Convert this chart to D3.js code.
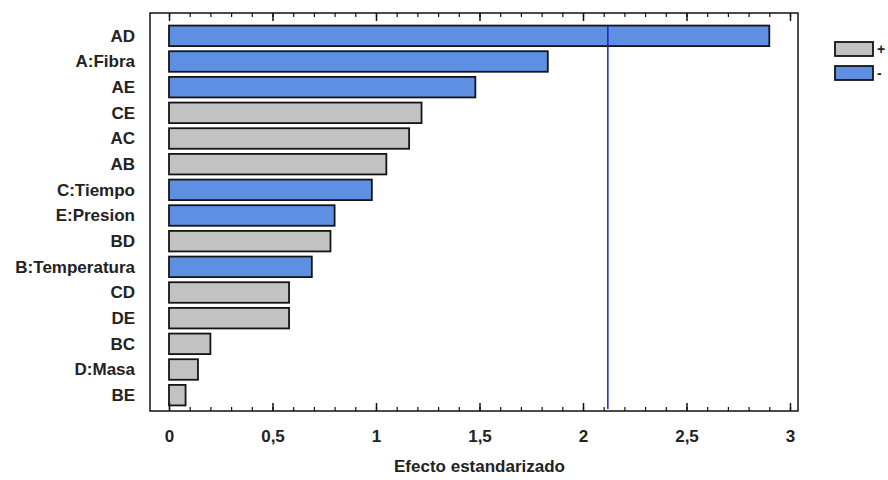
<!DOCTYPE html>
<html>
<head>
<meta charset="utf-8">
<script src="https://cdn.jsdelivr.net/npm/d3@7"></script>
<style>
  html, body { margin: 0; padding: 0; background: #ffffff; }
  svg { display: block; }
  .lbl { font-family: "Liberation Sans", Arial, sans-serif; fill: #222222; font-weight: bold; }
</style>
</head>
<body>
<svg id="chart" width="888" height="480"></svg>
<script>
// Standardized Pareto effects, largest first
const terms = ["AD", "A:Fibra", "AE", "CE", "AC", "AB", "C:Tiempo", "E:Presion", "BD",
               "B:Temperatura", "CD", "DE", "BC", "D:Masa", "BE"];
const effects = [2.90, 1.83, 1.48, 1.22, 1.16, 1.05, 0.98, 0.80, 0.78, 0.69, 0.58, 0.58, 0.20, 0.14, 0.08];
// sign of each effect: "+" positive (gray), "-" negative (blue)
const signs = ["-", "-", "-", "+", "+", "+", "-", "-", "+", "-", "+", "+", "+", "+", "+"];
const xTicks = [0, 0.5, 1, 1.5, 2, 2.5, 3];
const xTickLabels = ["0", "0,5", "1", "1,5", "2", "2,5", "3"];
const criticalValue = 2.12;
const legendKeys = ["+", "-"];

const colors = { "+": "#c2c2c2", "-": "#5e8fe3" };
const fontSize = 17;

const svg = d3.select("#chart");
const frame = { left: 150, right: 798, top: 13, bottom: 411 };

const x = d3.scaleLinear().domain([0, 3]).range([169, 790]);
const y = d3.scaleBand().domain(terms).range([23, 408]).paddingInner(0.2).paddingOuter(0.1);

// plot frame
svg.append("rect")
  .attr("x", frame.left).attr("y", frame.top)
  .attr("width", frame.right - frame.left).attr("height", frame.bottom - frame.top)
  .attr("fill", "none").attr("stroke", "#111").attr("stroke-width", 1.5);

// bars
svg.append("g").selectAll("rect")
  .data(terms)
  .join("rect")
  .attr("x", x(0))
  .attr("y", d => y(d))
  .attr("width", (d, i) => x(effects[i]) - x(0))
  .attr("height", y.bandwidth())
  .attr("fill", (d, i) => colors[signs[i]])
  .attr("stroke", "#151515")
  .attr("stroke-width", 1.8);

// critical line
svg.append("line")
  .attr("x1", x(criticalValue)).attr("x2", x(criticalValue))
  .attr("y1", y(terms[0])).attr("y2", frame.bottom - 2)
  .attr("stroke", "#1f1fc8").attr("stroke-width", 1.5);

// category labels
svg.append("g").selectAll("text")
  .data(terms)
  .join("text")
  .attr("class", "lbl")
  .attr("x", frame.left - 15)
  .attr("y", d => y(d) + y.bandwidth() / 2)
  .attr("dy", "0.35em")
  .attr("text-anchor", "end")
  .attr("font-size", fontSize)
  .text(d => d);

// bottom axis, ticks pointing inward
const minor = d3.range(0, 3.001, 0.1);
const bottomAxis = d3.axisBottom(x).tickValues(minor).tickSize(-4).tickFormat("");
const gB = svg.append("g").attr("transform", `translate(0,${frame.bottom})`).call(bottomAxis);
gB.select(".domain").remove();
gB.selectAll("line").attr("stroke", "#111").attr("stroke-width", 1.2);
const bottomMajor = d3.axisBottom(x).tickValues(xTicks).tickSize(-8)
  .tickFormat((d, i) => xTickLabels[i]).tickPadding(19);
const gBM = svg.append("g").attr("transform", `translate(0,${frame.bottom})`).call(bottomMajor);
gBM.select(".domain").remove();
gBM.selectAll("line").attr("stroke", "#111").attr("stroke-width", 1.5);
gBM.selectAll("text").attr("class", "lbl").attr("font-size", fontSize);

// top axis, ticks pointing inward
const topAxis = d3.axisTop(x).tickValues(minor).tickSize(-4).tickFormat("");
const gT = svg.append("g").attr("transform", `translate(0,${frame.top})`).call(topAxis);
gT.select(".domain").remove();
gT.selectAll("line").attr("stroke", "#111").attr("stroke-width", 1.2);
const topMajor = d3.axisTop(x).tickValues(xTicks).tickSize(-8).tickFormat("");
const gTM = svg.append("g").attr("transform", `translate(0,${frame.top})`).call(topMajor);
gTM.select(".domain").remove();
gTM.selectAll("line").attr("stroke", "#111").attr("stroke-width", 1.5);

// axis title
svg.append("text")
  .attr("class", "lbl")
  .attr("x", (x(0) + x(3)) / 2)
  .attr("y", 472)
  .attr("text-anchor", "middle")
  .attr("font-size", fontSize)
  .text("Efecto estandarizado");

// legend
const legend = svg.append("g").selectAll("g")
  .data(legendKeys)
  .join("g")
  .attr("transform", (d, i) => `translate(835,${42 + i * 24})`);
legend.append("rect")
  .attr("width", 38).attr("height", 14)
  .attr("fill", d => colors[d])
  .attr("stroke", "#151515").attr("stroke-width", 1.8);
legend.append("text")
  .attr("class", "lbl")
  .attr("x", 42).attr("y", 7).attr("dy", "0.35em")
  .attr("font-size", 14)
  .text(d => d);
</script>
</body>
</html>
